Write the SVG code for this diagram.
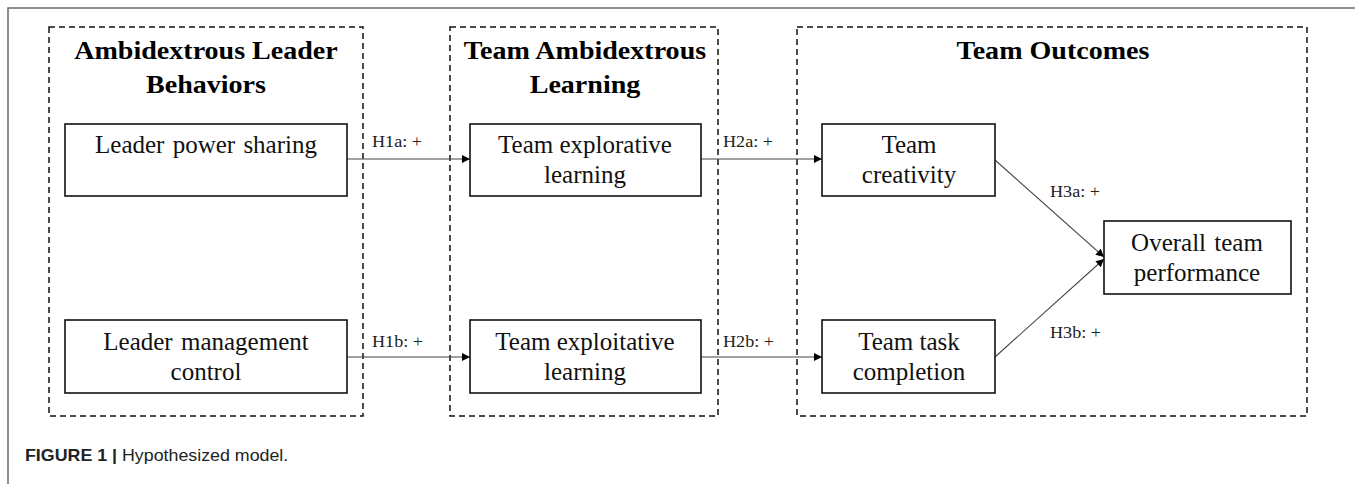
<svg xmlns="http://www.w3.org/2000/svg" width="1355" height="484" viewBox="0 0 1355 484">
  <defs>
    <marker id="arrow" viewBox="0 0 10 10" refX="10" refY="5" markerWidth="9" markerHeight="8" markerUnits="userSpaceOnUse" orient="auto">
      <path d="M0,0 L10,5 L0,10 z" fill="#000"/>
    </marker>
    <style>
      .frame { fill: none; stroke: #6a6a6a; stroke-width: 1.5; }
      .group { fill: none; stroke: #111; stroke-width: 1.5; stroke-dasharray: 6 4; }
      .box { fill: #fff; stroke: #111; stroke-width: 1.6; }
      .title { font-family: "Liberation Serif", "Times New Roman", serif; font-weight: bold; font-size: 25.5px; fill: #000; text-anchor: middle; }
      .label { font-family: "Liberation Serif", "Times New Roman", serif; font-size: 25px; fill: #111; text-anchor: middle; }
      .hyp { font-family: "Liberation Serif", "Times New Roman", serif; font-size: 16.5px; fill: #222; }
      .edge { fill: none; stroke: #444; stroke-width: 1.1; marker-end: url(#arrow); }
      .caption { font-family: "Liberation Sans", Arial, sans-serif; font-size: 16.5px; fill: #222; }
    </style>
  </defs>
  <rect width="1355" height="484" fill="#fff"/>

  <!-- outer figure frame (left and top rules) -->
  <path class="frame" d="M8,484 L8,8 L1355,8"/>

  <!-- stage groups -->
  <g id="group-leader">
    <rect class="group" x="49" y="27" width="314" height="389"/>
    <text class="title" transform="translate(206 59) scale(1.1 1)">Ambidextrous Leader</text>
    <text class="title" transform="translate(206 93) scale(1.1 1)">Behaviors</text>
  </g>
  <g id="group-learning">
    <rect class="group" x="450" y="27" width="268" height="389"/>
    <text class="title" transform="translate(585 59) scale(1.1 1)">Team Ambidextrous</text>
    <text class="title" transform="translate(585 93) scale(1.1 1)">Learning</text>
  </g>
  <g id="group-outcomes">
    <rect class="group" x="797" y="27" width="510" height="389"/>
    <text class="title" transform="translate(1053 59) scale(1.1 1)">Team Outcomes</text>
  </g>

  <!-- connectors -->
  <g id="connectors">
    <line class="edge" x1="347" y1="159" x2="470" y2="159"/>
    <line class="edge" x1="347" y1="357" x2="470" y2="357"/>
    <line class="edge" x1="701" y1="159" x2="822" y2="159"/>
    <line class="edge" x1="701" y1="357" x2="822" y2="357"/>
    <line class="edge" x1="995" y1="160" x2="1104" y2="257"/>
    <line class="edge" x1="995" y1="357" x2="1104" y2="259"/>
    <text class="hyp" transform="translate(372 147) scale(1.1 1)">H1a: +</text>
    <text class="hyp" transform="translate(372 347) scale(1.1 1)">H1b: +</text>
    <text class="hyp" transform="translate(723 147) scale(1.1 1)">H2a: +</text>
    <text class="hyp" transform="translate(723 347) scale(1.1 1)">H2b: +</text>
    <text class="hyp" transform="translate(1050 197) scale(1.1 1)">H3a: +</text>
    <text class="hyp" transform="translate(1050 338) scale(1.1 1)">H3b: +</text>
  </g>

  <!-- nodes -->
  <g id="leader-power-sharing">
    <rect class="box" x="65" y="124" width="282" height="72"/>
    <text class="label" x="206" y="153" word-spacing="2">Leader power sharing</text>
  </g>
  <g id="leader-management-control">
    <rect class="box" x="65" y="320" width="282" height="73"/>
    <text class="label" x="206" y="350" word-spacing="2">Leader management</text>
    <text class="label" x="206" y="380">control</text>
  </g>
  <g id="team-explorative-learning">
    <rect class="box" x="470" y="124" width="231" height="72"/>
    <text class="label" x="585" y="153">Team explorative</text>
    <text class="label" x="585" y="183">learning</text>
  </g>
  <g id="team-exploitative-learning">
    <rect class="box" x="470" y="320" width="231" height="73"/>
    <text class="label" x="585" y="350">Team exploitative</text>
    <text class="label" x="585" y="380">learning</text>
  </g>
  <g id="team-creativity">
    <rect class="box" x="822" y="124" width="173" height="72"/>
    <text class="label" x="909" y="153">Team</text>
    <text class="label" x="909" y="183">creativity</text>
  </g>
  <g id="team-task-completion">
    <rect class="box" x="822" y="320" width="173" height="73"/>
    <text class="label" x="909" y="350">Team task</text>
    <text class="label" x="909" y="380">completion</text>
  </g>
  <g id="overall-team-performance">
    <rect class="box" x="1104" y="221" width="187" height="73"/>
    <text class="label" x="1197" y="251" word-spacing="2">Overall team</text>
    <text class="label" x="1197" y="281">performance</text>
  </g>

  <!-- caption -->
  <text class="caption" transform="translate(25 461) scale(1.08 1)"><tspan font-weight="bold">FIGURE 1 | </tspan>Hypothesized model.</text>
</svg>
